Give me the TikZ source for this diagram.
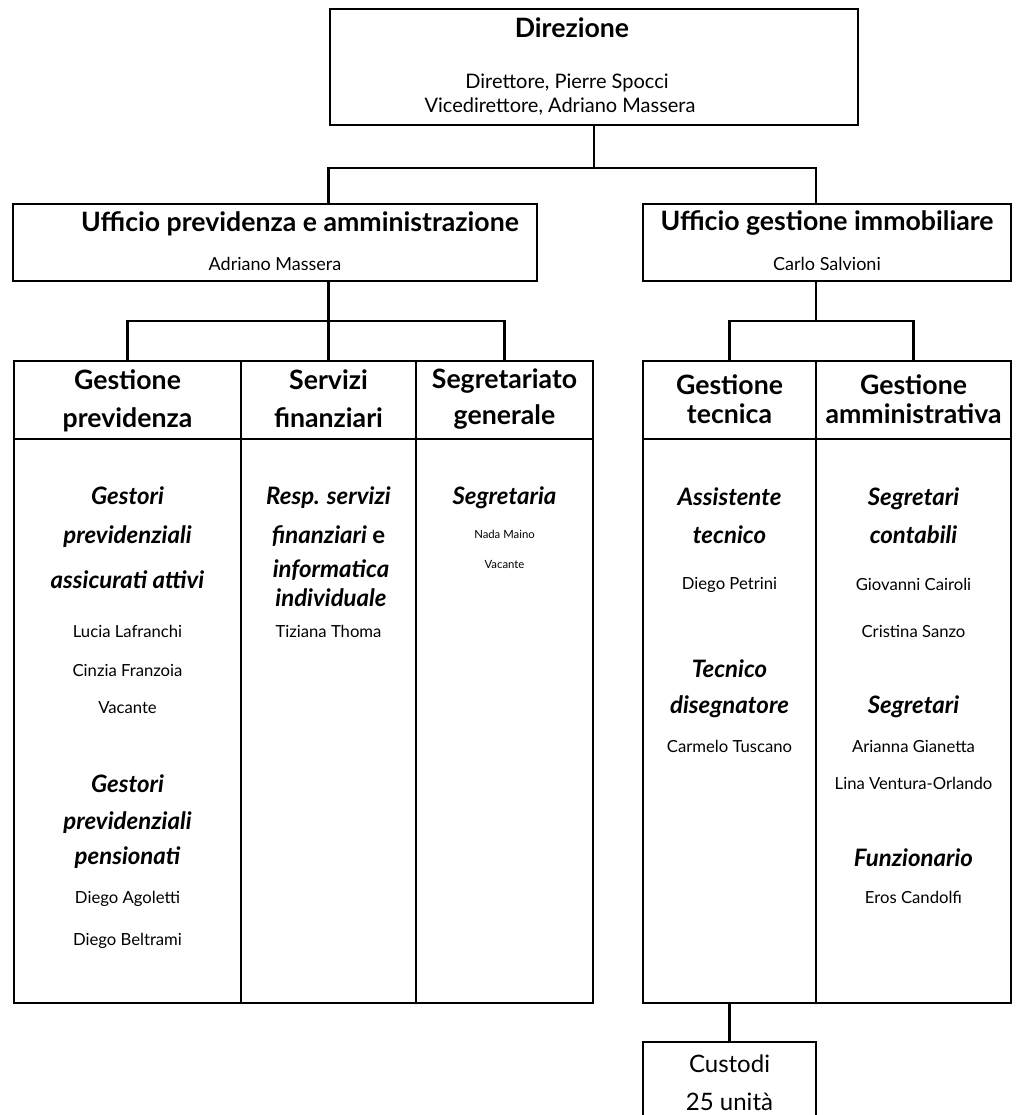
\documentclass[tikz,border=0pt]{standalone}
\usepackage{fontspec}
\setmainfont{Lato}
\begin{document}
\begin{tikzpicture}[x=0.75pt,y=-0.75pt,line width=2.1pt,
  box/.style={draw,rectangle,inner sep=0pt,outer sep=0pt,anchor=north west},
  ttl/.style={font=\fontsize{20}{24}\selectfont\bfseries,anchor=base,inner sep=0pt},
  utl/.style={font=\fontsize{20}{24}\selectfont\bfseries,anchor=base,inner sep=0pt},
  dnm/.style={font=\fontsize{15}{18}\selectfont,anchor=base,inner sep=0pt},
  unm/.style={font=\fontsize{13.5}{16}\selectfont,anchor=base,inner sep=0pt},
  hd/.style={font=\fontsize{20}{24}\selectfont\bfseries,anchor=base,inner sep=0pt},
  lbl/.style={font=\fontsize{18}{21}\selectfont\bfseries\itshape,anchor=base,inner sep=0pt},
  nm/.style={font=\fontsize{12.5}{15}\selectfont,anchor=base,inner sep=0pt},
  snm/.style={font=\fontsize{8.5}{10}\selectfont,anchor=base,inner sep=0pt},
  cnm/.style={font=\fontsize{18}{21}\selectfont,anchor=base,inner sep=0pt}]
\useasboundingbox (0,0) rectangle (1017,1115);
\clip (0,0) rectangle (1017,1115);
% boxes
\node[box,minimum width=396pt,minimum height=87pt] (dir) at (330,9) {};
\node[box,minimum width=393pt,minimum height=57.75pt] (upa) at (13,204) {};
\node[box,minimum width=276pt,minimum height=57.75pt] (ugi) at (643,204) {};
\node[box,minimum width=170.25pt,minimum height=58.5pt] (gph) at (14,361) {};
\node[box,minimum width=131.25pt,minimum height=58.5pt] (sfh) at (241,361) {};
\node[box,minimum width=132.75pt,minimum height=58.5pt] (sgh) at (416,361) {};
\node[box,minimum width=170.25pt,minimum height=423pt] (gpb) at (14,439) {};
\node[box,minimum width=131.25pt,minimum height=423pt] (sfb) at (241,439) {};
\node[box,minimum width=132.75pt,minimum height=423pt] (sgb) at (416,439) {};
\node[box,minimum width=129.75pt,minimum height=58.5pt] (gth) at (643,361) {};
\node[box,minimum width=146.25pt,minimum height=58.5pt] (gah) at (816,361) {};
\node[box,minimum width=129.75pt,minimum height=423pt] (gtb) at (643,439) {};
\node[box,minimum width=146.25pt,minimum height=423pt] (gab) at (816,439) {};
\node[box,minimum width=129.75pt,minimum height=75pt] (cus) at (643,1042) {};
% junctions
\coordinate (bus1) at (594,168);
\coordinate (bus2) at (330,321);
\coordinate (bus3) at (816,321);
% connectors
\draw (dir.south) -- (bus1);
\draw (sfh.north |- upa.north) |- (bus1) -| (gah.north west |- ugi.north);
\draw (sfh.north |- upa.south) -- (sfh.north);
\draw (gph.north) |- (bus2) -| (sgh.north);
\draw (gah.north west |- ugi.south) -- (bus3);
\draw (gth.north) |- (bus3) -| (gah.north);
\draw (gtb.south) -- (cus.north);
% texts: Direzione
\node[ttl] (t1) at (572,37) {Direzione};
\node[dnm] (t2) at (567,88) {Direttore, Pierre Spocci};
\node[dnm] (t3) at (560,112) {Vicedirettore, Adriano Massera};
% Uffici
\node[utl] (t4) at (300,231) {Ufficio previdenza e amministrazione};
\node[unm] (t5) at (275,270) {Adriano Massera};
\node[utl] (t6) at (827,230) {Ufficio gestione immobiliare};
\node[unm] (t7) at (827,270) {Carlo Salvioni};
% headers
\node[hd] (h1) at (127.5,389) {Gestione};
\node[hd] (h2) at (127.5,427) {previdenza};
\node[hd] (h3) at (328.5,389) {Servizi};
\node[hd] (h4) at (328.5,427) {finanziari};
\node[hd] (h5) at (504.5,388) {Segretariato};
\node[hd] (h6) at (504.5,424) {generale};
\node[hd] (h7) at (729.5,394) {Gestione};
\node[hd] (h8) at (729.5,423) {tecnica};
\node[hd] (h9) at (913.5,394) {Gestione};
\node[hd] (h10) at (913.5,423) {amministrativa};
% column 1
\node[lbl] (a1) at (127.5,504) {Gestori};
\node[lbl] (a2) at (127.5,543) {previdenziali};
\node[lbl] (a3) at (127.5,588) {assicurati attivi};
\node[nm] (a4) at (127.5,637) {Lucia Lafranchi};
\node[nm] (a5) at (127.5,676) {Cinzia Franzoia};
\node[nm] (a6) at (127.5,713) {Vacante};
\node[lbl] (a7) at (127.5,792) {Gestori};
\node[lbl] (a8) at (127.5,829) {previdenziali};
\node[lbl] (a9) at (127.5,864) {pensionati};
\node[nm] (a10) at (127.5,903) {Diego Agoletti};
\node[nm] (a11) at (127.5,945) {Diego Beltrami};
% column 2
\node[lbl] (b1) at (328.5,504) {Resp. servizi};
\node[lbl] (b2) at (328.5,543) {finanziari {\upshape e}};
\node[lbl] (b3) at (331,577) {informatica};
\node[lbl] (b4) at (331,606) {individuale};
\node[nm] (b5) at (328.5,637) {Tiziana Thoma};
% column 3
\node[lbl] (c1) at (504.5,504) {Segretaria};
\node[snm] (c2) at (504.5,538) {Nada Maino};
\node[snm] (c3) at (504.5,568) {Vacante};
% column gt
\node[lbl] (d1) at (729.5,505) {Assistente};
\node[lbl] (d2) at (729.5,543) {tecnico};
\node[nm] (d3) at (729.5,589) {Diego Petrini};
\node[lbl] (d4) at (729.5,677) {Tecnico};
\node[lbl] (d5) at (729.5,713) {disegnatore};
\node[nm] (d6) at (729.5,752) {Carmelo Tuscano};
% column ga
\node[lbl] (e1) at (913.5,505) {Segretari};
\node[lbl] (e2) at (913.5,543) {contabili};
\node[nm] (e3) at (913.5,590) {Giovanni Cairoli};
\node[nm] (e4) at (913.5,637) {Cristina Sanzo};
\node[lbl] (e5) at (913.5,713) {Segretari};
\node[nm] (e6) at (913.5,752) {Arianna Gianetta};
\node[nm] (e7) at (913.5,789) {Lina Ventura-Orlando};
\node[lbl] (e8) at (913.5,866) {Funzionario};
\node[nm] (e9) at (913.5,903) {Eros Candolfi};
% Custodi
\node[cnm] (f1) at (729.5,1072) {Custodi};
\node[cnm] (f2) at (729.5,1110) {25 unità};
\end{tikzpicture}
\end{document}
